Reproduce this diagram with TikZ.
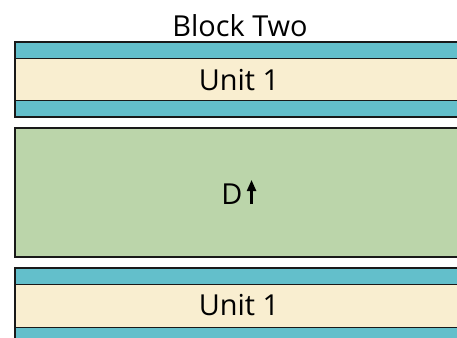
\documentclass[tikz,border=0pt]{standalone}
\usepackage{fontspec}
\setmainfont{Open Sans}
\usetikzlibrary{positioning,arrows.meta}

\definecolor{stripteal}{HTML}{63BFCB}
\definecolor{unitcream}{HTML}{F9EED0}
\definecolor{dgreen}{HTML}{BBD5AA}

\begin{document}
\begin{tikzpicture}[x=1bp, y=-1bp, line width=1.3bp, node distance=0bp,
  every node/.style={font=\fontsize{29}{34}\selectfont, inner sep=0pt, outer sep=0pt},
  layer/.style={rectangle, minimum width=442bp, anchor=north west},
  strip/.style={layer, fill=stripteal, minimum height=16.5bp},
  unitbox/.style={layer, fill=unitcream, minimum height=42bp},
  dbox/.style={layer, fill=dgreen, minimum height=129bp},
  edge/.style={draw=black!90}]
  \useasboundingbox (0,0) rectangle (457,337);

  % upper unit
  \node[strip] (topA) at (15,42) {};
  \node[unitbox, below=of topA] (unitA) {};
  \node (unitAtext) at (239,80) {Unit 1};
  \node[strip, below=of unitA] (topB) {};
  \node[anchor=base] (title) at (240,36) {Block Two};

  % middle block
  \node[dbox, below=11bp of topB] (dblock) {};
  \node[anchor=base] (dlabel) at (232,204) {D};
  \coordinate (arrowtail) at ([xshift=9bp]dlabel.base east);
  \coordinate[above=24bp of arrowtail] (arrowhead);
  \draw[-{Triangle[length=11bp,width=9bp]}, line width=2.2bp] (arrowtail) -- (arrowhead);

  % lower unit
  \node[strip, below=11bp of dblock] (botA) {};
  \node[unitbox, below=of botA, minimum height=43bp] (unitB) {};
  \node (unitBtext) at (239,305) {Unit 1};
  \node[strip, below=of unitB] (botB) {};

  % open borders, running off the right edge
  \foreach \part in {topA,unitA,topB,dblock,botA,unitB,botB}
    \draw[edge] (\part.north east) -- (\part.north west) -- (\part.south west) -- (\part.south east);
\end{tikzpicture}
\end{document}
